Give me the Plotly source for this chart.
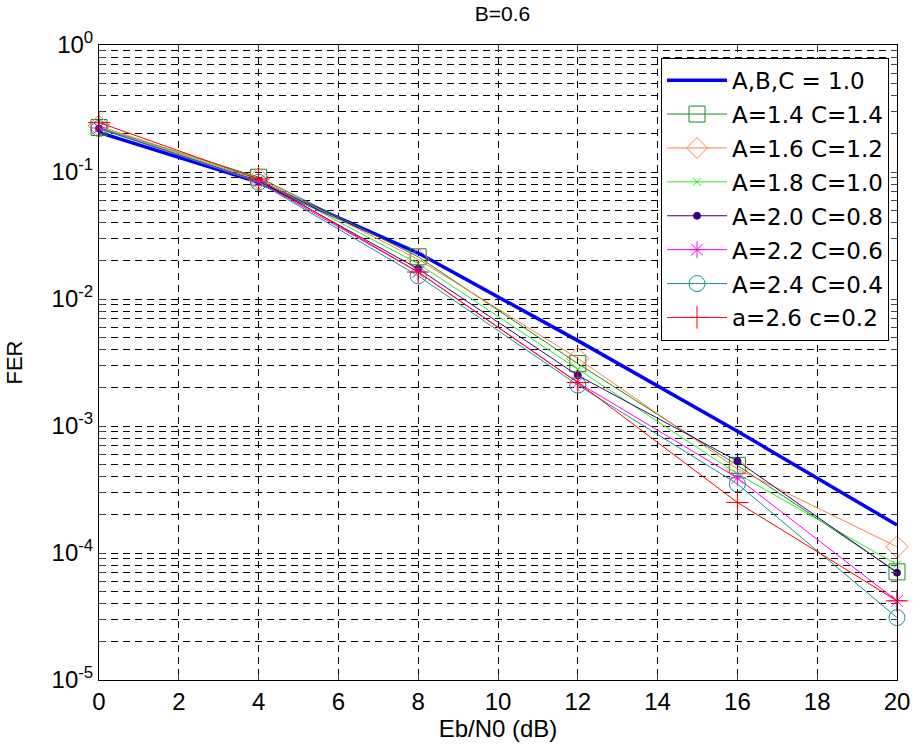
import plotly.graph_objects as go

x = [0, 4, 8, 12, 16, 20]
names = ["A,B,C = 1.0", "A=1.4 C=1.4", "A=1.6 C=1.2", "A=1.8 C=1.0",
         "A=2.0 C=0.8", "A=2.2 C=0.6", "A=2.4 C=0.4", "a=2.6 c=0.2"]
fer_base = [0.205, 0.083, 0.023, 0.0047, 0.00091, 0.000166]
fer_14_14 = [0.224, 0.091, 0.0215, 0.0031, 0.00049, 0.000071]
fer_16_12 = [0.23, 0.089, 0.0205, 0.0034, 0.00046, 0.000112]
fer_18_10 = [0.225, 0.087, 0.019, 0.0028, 0.00042, 0.000081]
fer_20_08 = [0.22, 0.085, 0.0173, 0.0025, 0.00053, 0.00007]
fer_22_06 = [0.222, 0.084, 0.0163, 0.0022, 0.00039, 0.000042]
fer_24_04 = [0.22, 0.083, 0.0152, 0.0021, 0.00035, 0.000031]
fer_26_02 = [0.245, 0.088, 0.0163, 0.0022, 0.00025, 0.000042]
series = [fer_base, fer_14_14, fer_16_12, fer_18_10, fer_20_08, fer_22_06, fer_24_04, fer_26_02]

colors = ["#0000FF", "#1E8A1E", "#FF8040", "#22F022", "#3D0080", "#FF00FF", "#1A9090", "#FF0000"]
symbols = [None, "square-open", "diamond-open", "x-thin-open", "circle", "asterisk-open", "circle-open", "cross-thin-open"]
msizes = [0, 16, 17, 8, 7, 14, 16, 16]
widths = [3.5, 1, 1, 1, 1, 1, 1, 1]

fig = go.Figure()
for i, (nm, ys) in enumerate(zip(names, series)):
    if symbols[i] is None:
        fig.add_trace(go.Scatter(x=x, y=ys, name=nm, mode="lines", cliponaxis=False,
                                 line=dict(color=colors[i], width=widths[i]),
                                 legendgroup=str(i)))
    else:
        fig.add_trace(go.Scatter(x=x, y=ys, name=nm, mode="lines+markers", cliponaxis=False,
                                 line=dict(color=colors[i], width=widths[i]),
                                 marker=dict(symbol=symbols[i], size=msizes[i], color=colors[i],
                                             line=dict(color=colors[i], width=1)),
                                 legendgroup=str(i)))

ytickvals = []
yticktext = []
for e in range(-5, 1):
    for m in range(1, 10):
        v = m * 10 ** e
        if v > 1.0001:
            break
        ytickvals.append(v)
        yticktext.append("10<sup>%d</sup>" % e if m == 1 else "")

font = "Liberation Sans, Arial, sans-serif"
fig.update_layout(
    width=922, height=750,
    margin=dict(l=99, r=16, t=45, b=67),
    paper_bgcolor="white", plot_bgcolor="white",
    font=dict(family=font, color="black", size=23),
    title=dict(text="B=0.6", x=(99 + 906) / 2 / 922, xanchor="center", y=1 - 14 / 750, yanchor="middle",
               font=dict(size=21)),
    showlegend=True,
    legend=dict(x=0.99, y=0.98, xanchor="right", yanchor="top", bgcolor="white",
                bordercolor="black", borderwidth=1,
                font=dict(size=23, family="DejaVu Sans, sans-serif"),
                traceorder="grouped", tracegroupgap=1, itemwidth=60),
)
fig.update_xaxes(
    range=[0, 20], tickvals=list(range(0, 21, 2)), ticks="inside", ticklen=6,
    showline=True, linecolor="black", linewidth=1, mirror="ticks",
    showgrid=True, gridcolor="black", griddash="7px,5px", gridwidth=0.6,
    zeroline=False, title=dict(text="Eb/N0 (dB)", standoff=6, font=dict(size=24)),
    tickfont=dict(size=24),
)
fig.update_yaxes(
    type="log", range=[-5, 0], tickvals=ytickvals, ticktext=yticktext,
    ticks="inside", ticklen=6,
    showline=True, linecolor="black", linewidth=1, mirror="ticks",
    showgrid=True, gridcolor="black", griddash="7px,5px", gridwidth=0.6,
    zeroline=False, title=dict(text="FER", standoff=22, font=dict(size=22)),
    tickfont=dict(size=24),
)
fig.write_html("out.html")
